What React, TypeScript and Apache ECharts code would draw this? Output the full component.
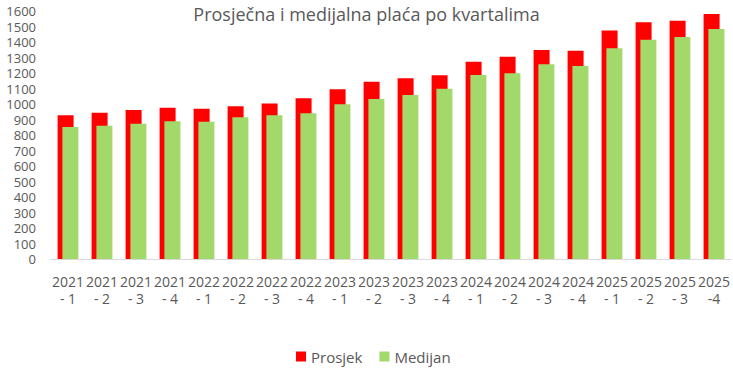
import React, { useEffect, useRef } from "react";
import * as echarts from "echarts";

const categories = [
  "2021\n- 1", "2021\n- 2", "2021\n- 3", "2021\n- 4",
  "2022\n- 1", "2022\n- 2", "2022\n- 3", "2022\n- 4",
  "2023\n- 1", "2023\n- 2", "2023\n- 3", "2023\n- 4",
  "2024\n- 1", "2024\n- 2", "2024\n- 3", "2024\n- 4",
  "2025\n- 1", "2025\n- 2", "2025\n- 3", "2025\n-4",
];
const prosjek = [927, 944, 961, 976, 970, 985, 1004, 1037, 1095, 1144, 1166, 1185, 1273, 1305, 1348, 1344, 1475, 1527, 1537, 1581];
const medijan = [852, 860, 873, 888, 886, 914, 927, 940, 998, 1032, 1058, 1099, 1187, 1198, 1256, 1245, 1359, 1415, 1432, 1484];

const FONT = "'Open Sans', 'Noto Sans', sans-serif";
const TEXT = "#595959";

export default function App() {
  const ref = useRef<HTMLDivElement>(null);
  useEffect(() => {
    if (!ref.current) return;
    const chart = echarts.init(ref.current, undefined, { renderer: "svg" });
    chart.setOption({
      animation: false,
      textStyle: { fontFamily: FONT },
      title: {
        text: "Prosječna i medijalna plaća po kvartalima",
        left: "center",
        top: 0,
        textStyle: { fontFamily: FONT, fontSize: 18, fontWeight: "normal", color: TEXT },
      },
      legend: {
        bottom: 0,
        left: 291,
        itemWidth: 10,
        itemHeight: 10,
        itemGap: 17,
        icon: "rect",
        textStyle: { fontFamily: FONT, fontSize: 15, color: TEXT },
        data: ["Prosjek", "Medijan"],
      },
      grid: { left: 51, right: 2, top: 11, bottom: 110, containLabel: false },
      xAxis: {
        type: "category",
        data: categories,
        axisLine: { show: true, lineStyle: { color: "#d9d9d9", width: 1 } },
        axisTick: { show: false },
        axisLabel: {
          interval: 0,
          fontFamily: FONT,
          fontSize: 14,
          lineHeight: 17,
          color: TEXT,
          margin: 14,
        },
      },
      yAxis: {
        type: "value",
        min: 0,
        max: 1600,
        interval: 100,
        axisLine: { show: false },
        axisTick: { show: false },
        splitLine: { show: false },
        axisLabel: {
          fontFamily: FONT,
          fontSize: 13,
          lineHeight: 14,
          color: TEXT,
          margin: 15,
          formatter: (v: number) => String(v),
        },
      },
      series: [
        {
          name: "Prosjek",
          type: "bar",
          data: prosjek,
          barWidth: 16,
          barGap: "-70%",
          itemStyle: { color: "#ff0000" },
        },
        {
          name: "Medijan",
          type: "bar",
          data: medijan,
          barWidth: 16,
          itemStyle: { color: "#a3d86b" },
        },
      ],
    });
    return () => chart.dispose();
  }, []);
  return <div ref={ref} style={{ width: 733, height: 369, position: "absolute", left: 0, top: 0 }} />;
}
